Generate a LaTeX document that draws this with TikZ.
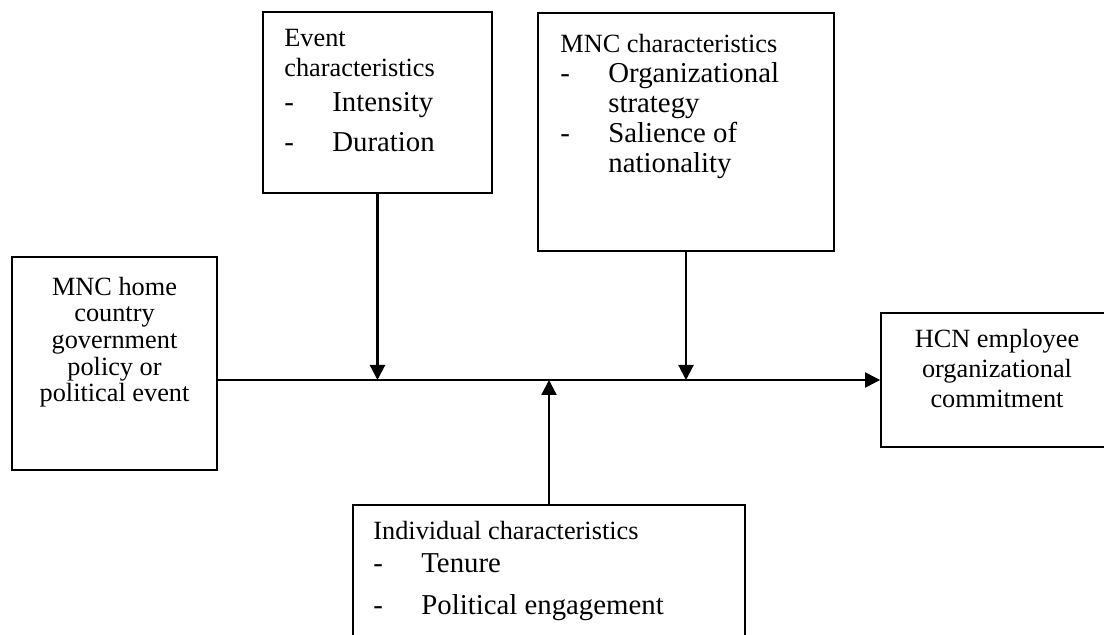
\documentclass[tikz,border=0pt]{standalone}
\usepackage{fontspec}
\setmainfont{Liberation Serif}
\usetikzlibrary{arrows.meta}
\newcommand{\itemdash}{\makebox[24pt][l]{-}}
\newcommand{\itemskip}{\hspace*{24pt}}

\begin{document}
\begin{tikzpicture}[x=0.5pt,y=-0.5pt,
 box/.style={draw,line width=0.9pt,inner sep=0pt},
 flow/.style={line width=1.1pt,-{Triangle[length=7.5pt,width=7.5pt]}},
 plain/.style={inner sep=0pt,align=center,anchor=base,font=\fontsize{13.15pt}{13.35pt}\selectfont},
 head/.style={inner sep=0pt,align=left,anchor=base west,font=\fontsize{13.15pt}{15pt}\selectfont},
 items/.style={inner sep=0pt,align=left,anchor=base west,font=\fontsize{14.4pt}{15pt}\selectfont}]
 \useasboundingbox (0,0) rectangle (1104,635);
 \clip (0,0) rectangle (1104,635);

 % boxes
 \node [box,minimum width=102.5pt,minimum height=106.5pt] (home) at (114.5,363.5) {};
 \node [box,minimum width=114.5pt,minimum height=90.5pt] (event) at (377.5,102.5) {};
 \node [box,minimum width=148pt,minimum height=119pt] (mnc) at (686,132) {};
 \node [box,minimum width=115.5pt,minimum height=67pt] (hcn) at (996.5,380) {};
 \node [box,minimum width=196pt,minimum height=80pt] (indiv) at (549,585) {};

 % texts (anchored at the last baseline)
 \node [plain] (hometext) at (114.5,402) {MNC home\\country\\government\\policy or\\political event};
 \node [plain,font=\fontsize{13.15pt}{15pt}\selectfont] (hcntext) at (997,408) {HCN employee\\organizational\\commitment};

 \node [head] (eventhead) at (284,77) {Event\\characteristics};
 \node [items,font=\fontsize{14.4pt}{20pt}\selectfont] (eventitems) at (284,152) {\itemdash Intensity\\\itemdash Duration};

 \node [head] (mnchead) at (560,53) {MNC characteristics};
 \node [items] (mncitems) at (560,173) {\itemdash Organizational\\\itemskip strategy\\\itemdash Salience of\\\itemskip nationality};

 \node [head] (indivhead) at (373,540) {Individual characteristics};
 \node [items,font=\fontsize{14.4pt}{21pt}\selectfont] (indivitems) at (373,615) {\itemdash Tenure\\\itemdash Political engagement};

 % connectors
 \draw[flow] (home.east |- hcn.west) -- (hcn.west);
 \draw[flow] (event.south) -- (event.south |- hcn.west);
 \draw[flow] (mnc.south) -- (mnc.south |- hcn.west);
 \draw[flow] (indiv.north) -- (indiv.north |- hcn.west);
\end{tikzpicture}
\end{document}
